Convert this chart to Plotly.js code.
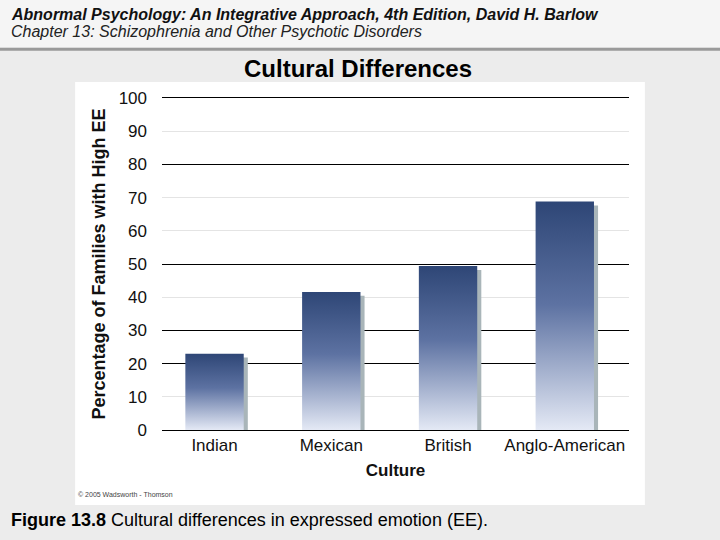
<!DOCTYPE html>
<html><head><meta charset="utf-8">
<script src="https://cdn.plot.ly/plotly-3.0.1.min.js"></script>
<style>html,body{margin:0;padding:0;background:#ececec;}#chart{width:720px;height:540px;}</style>
</head><body>
<div id="chart"></div>
<script>
const categories = ["Indian", "Mexican", "British", "Anglo-American"];
const values = [23, 41.6, 49.4, 68.8];
const yTicks = [0, 10, 20, 30, 40, 50, 60, 70, 80, 90, 100];
const darkGrid = [0, 20, 30, 50, 80, 100];

const shadowY = values.map(v => v - 1.2);

const traces = [
  {type: 'bar', x: categories, y: shadowY, width: 0.5, offset: -0.215,
   marker: {color: '#a9b5b9', line: {width: 0}}, hoverinfo: 'skip', showlegend: false},
  {type: 'bar', x: categories, y: values, width: 0.5, offset: -0.25,
   marker: {color: '#4a6090', line: {width: 0}}, showlegend: false},
  {type: 'scatter', mode: 'markers', x: [categories[0]], y: [darkGrid[0]], yaxis: 'y2',
   marker: {opacity: 0, size: 1}, hoverinfo: 'skip', showlegend: false}
];

const font = "'Liberation Sans', Arial, sans-serif";
const narrow = "'Liberation Sans Narrow', 'Liberation Sans', Arial, sans-serif";
const layout = {
  width: 720, height: 540,
  margin: {l: 162, r: 91, t: 98, b: 110},
  paper_bgcolor: '#ececec', plot_bgcolor: 'rgba(0,0,0,0)',
  barmode: 'overlay',
  font: {family: font, color: '#111'},
  xaxis: {range: [-0.45, 3.55], showgrid: false, zeroline: false,
          showline: true, linecolor: '#000', linewidth: 1, mirror: true,
          ticks: '', tickfont: {size: 17, color: '#111'}, ticklabelstandoff: 0,
          title: {text: '<b>Culture</b>', font: {size: 17, color: '#111'}, standoff: 9}},
  yaxis: {range: [0, 100], tickvals: yTicks, ticktext: yTicks.map(String),
          showgrid: true, gridcolor: '#e4e4e4', gridwidth: 1, zeroline: false, showline: false,
          ticks: '', tickfont: {size: 17, color: '#111'}, ticklabelstandoff: 14,
          title: {text: '<b>Percentage of Families with High EE</b>', font: {size: 18, color: '#111'}, standoff: 8}},
  yaxis2: {overlaying: 'y', range: [0, 100], tickvals: darkGrid, showticklabels: false,
           showgrid: true, gridcolor: '#000', gridwidth: 1, zeroline: false, showline: false, ticks: ''},
  shapes: [
    {type: 'rect', xref: 'paper', yref: 'paper', x0: -0.7, x1: 1.3, y0: 1.153, y1: 1.4,
     fillcolor: '#f5f5f5', line: {width: 0}, layer: 'below'},
    {type: 'line', xref: 'paper', yref: 'paper', x0: -0.7, x1: 1.3, y0: 1.147, y1: 1.147,
     line: {color: '#9a9a9a', width: 3}, layer: 'below'},
    {type: 'rect', xref: 'paper', yref: 'paper', x0: -0.186, x1: 1.034, y0: -0.226, y1: 1.048,
     fillcolor: '#ffffff', line: {width: 0}, layer: 'below'}
  ],
  annotations: [
    {text: '<b><i>Abnormal Psychology: An Integrative Approach, 4th Edition, David H. Barlow</i></b>',
     xref: 'paper', yref: 'paper', x: -0.328, y: 1.253, xanchor: 'left', yanchor: 'middle', showarrow: false,
     font: {family: narrow, size: 16, color: '#111'}},
    {text: '<i>Chapter 13: Schizophrenia and Other Psychotic Disorders</i>',
     xref: 'paper', yref: 'paper', x: -0.328, y: 1.199, xanchor: 'left', yanchor: 'middle', showarrow: false,
     font: {family: narrow, size: 16, color: '#222'}},
    {text: '<b>Cultural Differences</b>',
     xref: 'paper', yref: 'paper', x: 0.42, y: 1.089, xanchor: 'center', yanchor: 'middle', showarrow: false,
     font: {family: font, size: 24, color: '#000'}},
    {text: '© 2005 Wadsworth - Thomson',
     xref: 'paper', yref: 'paper', x: -0.184, y: -0.193, xanchor: 'left', yanchor: 'middle', showarrow: false,
     font: {family: font, size: 7, color: '#444'}},
    {text: '<b>Figure 13.8</b> Cultural differences in expressed emotion (EE).',
     xref: 'paper', yref: 'paper', x: -0.328, y: -0.27, xanchor: 'left', yanchor: 'middle', showarrow: false,
     font: {family: font, size: 18, color: '#000'}}
  ]
};

Plotly.newPlot('chart', traces, layout, {displayModeBar: false, staticPlot: true}).then(function (gd) {
  const svg = gd.querySelector('svg.main-svg');
  const ns = 'http://www.w3.org/2000/svg';
  let defs = svg.querySelector('defs');
  if (!defs) { defs = document.createElementNS(ns, 'defs'); svg.insertBefore(defs, svg.firstChild); }
  const grad = document.createElementNS(ns, 'linearGradient');
  grad.setAttribute('id', 'barGrad');
  grad.setAttribute('x1', '0'); grad.setAttribute('y1', '0');
  grad.setAttribute('x2', '0'); grad.setAttribute('y2', '1');
  [['0', '#2e4676'], ['0.45', '#5d72a2'], ['1', '#e4e9f5']].forEach(function (s) {
    const st = document.createElementNS(ns, 'stop');
    st.setAttribute('offset', s[0]); st.setAttribute('stop-color', s[1]);
    grad.appendChild(st);
  });
  defs.appendChild(grad);
  const barTraces = gd.querySelectorAll('.barlayer .trace');
  const main = barTraces[barTraces.length - 1];
  main.querySelectorAll('.point path').forEach(function (p) { p.style.fill = 'url(#barGrad)'; });
});
</script>
</body></html>
